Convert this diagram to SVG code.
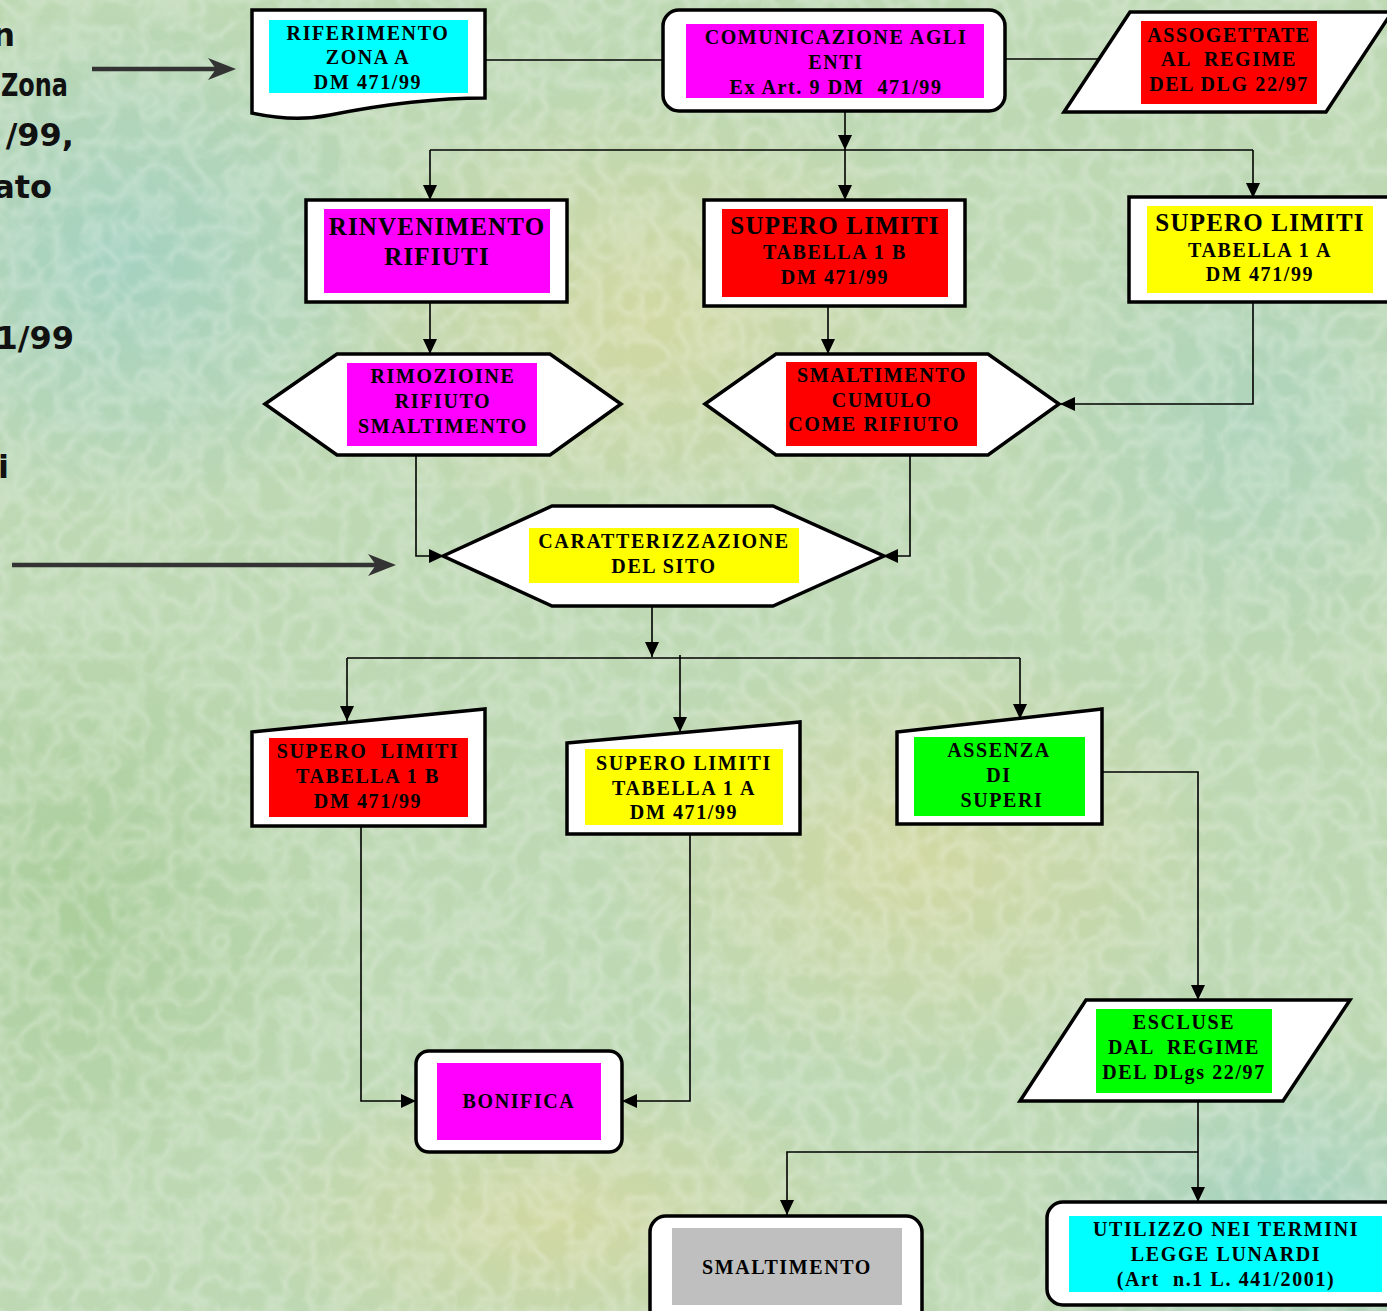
<svg xmlns="http://www.w3.org/2000/svg" width="1387" height="1311" viewBox="0 0 1387 1311">
<defs>
<style>
.box{fill:#fff;stroke:#000;stroke-width:3.5;stroke-linejoin:miter}
.t{font-family:"Liberation Serif","Times New Roman",serif;font-weight:bold;font-size:20px;letter-spacing:1.6px;text-anchor:middle;fill:#000;white-space:pre}
.tb{font-size:25px;letter-spacing:1.2px}
.side{font-family:"DejaVu Sans","Noto Sans",sans-serif;font-weight:bold;font-size:32px;text-anchor:end;fill:#111}
.c{fill:none;stroke:#000;stroke-width:1.6}
.big{fill:none;stroke:#333;stroke-width:4.5}
</style>
<marker id="ah" markerUnits="userSpaceOnUse" markerWidth="16" markerHeight="14" refX="15" refY="7" orient="auto">
<path d="M0,0 L15,7 L0,14 z" fill="#000"/>
</marker>
<radialGradient id="g1" cx="0.5" cy="0.5" r="0.5"><stop offset="0" stop-color="#d6d89e" stop-opacity="0.8"/><stop offset="1" stop-color="#d6d89e" stop-opacity="0"/></radialGradient>
<radialGradient id="g2" cx="0.5" cy="0.5" r="0.5"><stop offset="0" stop-color="#9ed0c4" stop-opacity="0.8"/><stop offset="1" stop-color="#9ed0c4" stop-opacity="0"/></radialGradient>
<radialGradient id="g3" cx="0.5" cy="0.5" r="0.5"><stop offset="0" stop-color="#a6cc96" stop-opacity="0.8"/><stop offset="1" stop-color="#a6cc96" stop-opacity="0"/></radialGradient>
<filter id="tex" x="0" y="0" width="100%" height="100%">
<feTurbulence type="turbulence" baseFrequency="0.035" numOctaves="2" seed="7" result="n"/>
<feColorMatrix in="n" type="matrix" values="0 0 0 0 1  0 0 0 0 1  0 0 0 0 1  0 0 0 -1.6 0.7"/>
</filter>
</defs>

<g id="background">
<rect width="1387" height="1311" fill="#bdd8b3"/>
<ellipse cx="120" cy="260" rx="300" ry="260" fill="url(#g2)"/>
<ellipse cx="650" cy="320" rx="330" ry="240" fill="url(#g1)"/>
<ellipse cx="920" cy="860" rx="320" ry="220" fill="url(#g1)"/>
<ellipse cx="560" cy="1220" rx="320" ry="160" fill="url(#g1)"/>
<ellipse cx="1290" cy="1230" rx="260" ry="200" fill="url(#g2)"/>
<ellipse cx="80" cy="900" rx="260" ry="300" fill="url(#g3)"/>
<ellipse cx="1250" cy="420" rx="240" ry="260" fill="url(#g2)" opacity="0.6"/>
<rect width="1387" height="1311" filter="url(#tex)" opacity="0.35"/>
</g>

<g id="side-text">
<text class="side" x="15" y="46">n</text>
<text class="side" x="68" y="96" textLength="67" lengthAdjust="spacingAndGlyphs">Zona</text>
<text class="side" x="74" y="146">/99,</text>
<text class="side" x="52" y="198">ato</text>
<text class="side" x="74" y="349">1/99</text>
<text class="side" x="9" y="478">i</text>
<path class="big" d="M92,69 L222,69"/>
<path d="M236,69 L208,58 L216,69 L208,80 z" fill="#333"/>
<path class="big" d="M12,565 L382,565"/>
<path d="M396,565 L368,554 L376,565 L368,576 z" fill="#333"/>
</g>

<g id="connectors">
<path class="c" d="M485,60 H663"/>
<path class="c" d="M1005,59 H1103"/>
<path class="c" d="M845,111 V150" marker-end="url(#ah)"/>
<path class="c" d="M430,150 H1253"/>
<path class="c" d="M430,150 V200" marker-end="url(#ah)"/>
<path class="c" d="M845,150 V200" marker-end="url(#ah)"/>
<path class="c" d="M1253,150 V198" marker-end="url(#ah)"/>
<path class="c" d="M430,302 V354" marker-end="url(#ah)"/>
<path class="c" d="M828,306 V354" marker-end="url(#ah)"/>
<path class="c" d="M1253,302 V404 H1060" marker-end="url(#ah)"/>
<path class="c" d="M416,455 V556 H444" marker-end="url(#ah)"/>
<path class="c" d="M910,455 V556 H883" marker-end="url(#ah)"/>
<path class="c" d="M652,604 V657" marker-end="url(#ah)"/>
<path class="c" d="M347,658 H1020"/>
<path class="c" d="M347,658 V721" marker-end="url(#ah)"/>
<path class="c" d="M680,655 V732" marker-end="url(#ah)"/>
<path class="c" d="M1020,658 V719" marker-end="url(#ah)"/>
<path class="c" d="M1102,772 H1198 V1000" marker-end="url(#ah)"/>
<path class="c" d="M361,826 V1101 H416" marker-end="url(#ah)"/>
<path class="c" d="M690,834 V1101 H622" marker-end="url(#ah)"/>
<path class="c" d="M1198,1101 V1202" marker-end="url(#ah)"/>
<path class="c" d="M1198,1152 H787 V1215" marker-end="url(#ah)"/>
</g>

<g id="n-riferimento">
<path class="box" d="M252,10 H485 V98 C430,98 380,105 330,115 C300,121 275,118 252,113 Z"/>
<rect x="269" y="20" width="199" height="73" fill="#00ffff"/>
<text class="t" x="368" y="40">RIFERIMENTO</text>
<text class="t" x="368" y="64">ZONA A</text>
<text class="t" x="368" y="89">DM 471/99</text>
</g>

<g id="n-comunicazione">
<rect class="box" x="663" y="10" width="342" height="101" rx="16"/>
<rect x="686" y="24" width="298" height="74" fill="#ff00ff"/>
<text class="t" x="836" y="44">COMUNICAZIONE AGLI</text>
<text class="t" x="836" y="69">ENTI</text>
<text class="t" x="836" y="94">Ex Art. 9 DM  471/99</text>
</g>

<g id="n-assoggettate">
<path class="box" d="M1130,12 H1392 L1326,112 H1064 Z"/>
<rect x="1141" y="21" width="176" height="83" fill="#ff0000"/>
<text class="t" x="1229" y="42">ASSOGETTATE</text>
<text class="t" x="1229" y="66">AL  REGIME</text>
<text class="t" x="1229" y="91">DEL DLG 22/97</text>
</g>

<g id="n-rinvenimento">
<rect class="box" x="306" y="200" width="261" height="102"/>
<rect x="324" y="209" width="226" height="84" fill="#ff00ff"/>
<text class="t tb" x="437" y="235">RINVENIMENTO</text>
<text class="t tb" x="437" y="265">RIFIUTI</text>
</g>

<g id="n-supero1b-top">
<rect class="box" x="704" y="200" width="261" height="106"/>
<rect x="722" y="209" width="226" height="88" fill="#ff0000"/>
<text class="t tb" x="835" y="234">SUPERO LIMITI</text>
<text class="t" x="835" y="259">TABELLA 1 B</text>
<text class="t" x="835" y="284">DM 471/99</text>
</g>

<g id="n-supero1a-top">
<rect class="box" x="1129" y="197" width="270" height="105"/>
<rect x="1147" y="206" width="226" height="87" fill="#ffff00"/>
<text class="t tb" x="1260" y="231">SUPERO LIMITI</text>
<text class="t" x="1260" y="257">TABELLA 1 A</text>
<text class="t" x="1260" y="281">DM 471/99</text>
</g>

<g id="n-rimozione">
<path class="box" d="M265,404 L337,354 H550 L621,404 L550,455 H337 Z"/>
<rect x="347" y="363" width="190" height="83" fill="#ff00ff"/>
<text class="t" x="443" y="383">RIMOZIOINE</text>
<text class="t" x="443" y="408">RIFIUTO</text>
<text class="t" x="443" y="433">SMALTIMENTO</text>
</g>

<g id="n-smaltimento-cumulo">
<path class="box" d="M705,404 L776,354 H988 L1059,404 L988,455 H776 Z"/>
<rect x="786" y="362" width="191" height="84" fill="#ff0000"/>
<text class="t" x="882" y="382">SMALTIMENTO</text>
<text class="t" x="882" y="407">CUMULO</text>
<text class="t" x="874" y="431">COME RIFIUTO</text>
</g>

<g id="n-caratterizzazione">
<path class="box" d="M443,556 L552,506 H773 L884,556 L773,606 H552 Z"/>
<rect x="529" y="528" width="270" height="55" fill="#ffff00"/>
<text class="t" x="664" y="548">CARATTERIZZAZIONE</text>
<text class="t" x="664" y="573">DEL SITO</text>
</g>

<g id="n-supero1b">
<path class="box" d="M252,732 L485,709 V826 H252 Z"/>
<rect x="269" y="738" width="199" height="79" fill="#ff0000"/>
<text class="t" x="368" y="758">SUPERO  LIMITI</text>
<text class="t" x="368" y="783">TABELLA 1 B</text>
<text class="t" x="368" y="808">DM 471/99</text>
</g>

<g id="n-supero1a">
<path class="box" d="M567,743 L800,722 V834 H567 Z"/>
<rect x="585" y="749" width="198" height="76" fill="#ffff00"/>
<text class="t" x="684" y="770">SUPERO LIMITI</text>
<text class="t" x="684" y="795">TABELLA 1 A</text>
<text class="t" x="684" y="819">DM 471/99</text>
</g>

<g id="n-assenza">
<path class="box" d="M897,732 L1102,709 V824 H897 Z"/>
<rect x="914" y="737" width="171" height="79" fill="#00ff00"/>
<text class="t" x="999" y="757">ASSENZA</text>
<text class="t" x="999" y="782">DI</text>
<text class="t" x="1002" y="807">SUPERI</text>
</g>

<g id="n-bonifica">
<rect class="box" x="416" y="1051" width="206" height="101" rx="13"/>
<rect x="437" y="1063" width="164" height="77" fill="#ff00ff"/>
<text class="t" x="519" y="1108">BONIFICA</text>
</g>

<g id="n-escluse">
<path class="box" d="M1086,1000 H1350 L1283,1101 H1020 Z"/>
<rect x="1096" y="1009" width="176" height="84" fill="#00ff00"/>
<text class="t" x="1184" y="1029">ESCLUSE</text>
<text class="t" x="1184" y="1054">DAL  REGIME</text>
<text class="t" x="1184" y="1079">DEL DLgs 22/97</text>
</g>

<g id="n-smaltimento">
<rect class="box" x="650" y="1216" width="272" height="110" rx="16"/>
<rect x="672" y="1228" width="230" height="77" fill="#bfbfbf"/>
<text class="t" x="787" y="1274">SMALTIMENTO</text>
</g>

<g id="n-utilizzo">
<rect class="box" x="1047" y="1202" width="360" height="103" rx="16"/>
<rect x="1069" y="1216" width="313" height="76" fill="#00ffff"/>
<text class="t" x="1226" y="1236">UTILIZZO NEI TERMINI</text>
<text class="t" x="1226" y="1261">LEGGE LUNARDI</text>
<text class="t" x="1226" y="1286">(Art  n.1 L. 441/2001)</text>
</g>
</svg>
